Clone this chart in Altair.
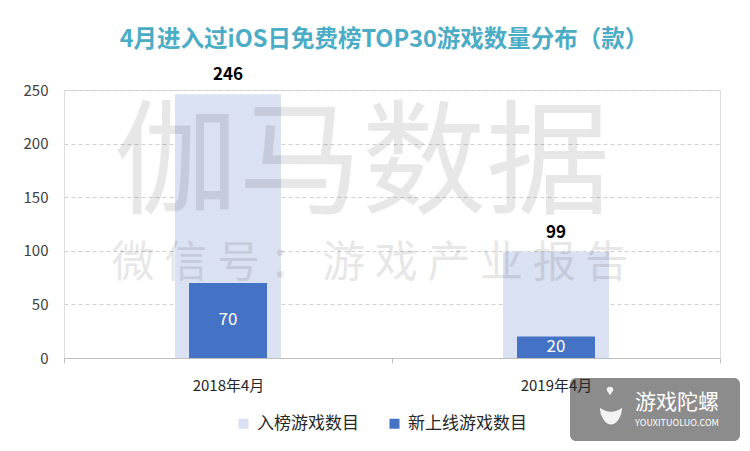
import altair as alt
import pandas as pd

months = ["2018年4月", "2019年4月"]
series_names = ["入榜游戏数目", "新上线游戏数目"]
listed_counts = [246, 99]
new_counts = [70, 20]
y_ticks = [0, 50, 100, 150, 200, 250]
title_text = "4月进入过iOS日免费榜TOP30游戏数量分布（款）"
colors = ["#DAE1F2", "#4472C4"]

FONT = "Noto Sans CJK SC"

rows = []
for m, a, b in zip(months, listed_counts, new_counts):
    rows.append({"month": m, "series": series_names[0], "value": a})
    rows.append({"month": m, "series": series_names[1], "value": b})
df = pd.DataFrame(rows)

x_enc = alt.X(
    "month:N",
    sort=months,
    title=None,
    scale=alt.Scale(paddingInner=0, paddingOuter=0),
    axis=alt.Axis(
        labelAngle=0, labelFontSize=15, labelColor="#262626", labelFont=FONT,
        domainColor="#BFBFBF", tickColor="#BFBFBF", tickSize=5, tickBand="extent",
        labelPadding=15, zindex=1,
    ),
)
y_enc = alt.Y(
    "value:Q",
    title=None,
    scale=alt.Scale(domain=[0, 250], nice=False),
    axis=alt.Axis(
        values=y_ticks, ticks=False, domain=False, labelFontSize=15,
        labelColor="#404040", labelFont=FONT, labelPadding=16,
        gridColor="#D0D0D0", gridDash=[4, 3], gridWidth=1,
    ),
)
color_enc = alt.Color(
    "series:N",
    scale=alt.Scale(domain=series_names, range=colors),
    legend=alt.Legend(
        title=None, orient="none", legendX=171, legendY=325, direction="horizontal",
        symbolType="square", symbolSize=100, symbolStrokeWidth=0,
        labelFontSize=17, labelFont=FONT, labelColor="#262626", labelOffset=5,
        columnPadding=27, padding=0, labelLimit=300,
    ),
)

base = alt.Chart(df)

listed = base.transform_filter(alt.datum.series == series_names[0])
new = base.transform_filter(alt.datum.series == series_names[1])

bars_listed = listed.mark_bar(size=106).encode(x=x_enc, y=y_enc, color=color_enc)
bars_new = new.mark_bar(size=78).encode(x=x_enc, y=y_enc, color=color_enc)

wm1 = alt.Chart(pd.DataFrame({"t": ["伽马数据"]})).mark_text(
    font=FONT, fontSize=124, color="#000000", opacity=0.09, align="center", baseline="middle"
).encode(text="t:N", x=alt.value(298), y=alt.value(77))
wm2 = alt.Chart(pd.DataFrame({"t": ["微 信 号 ： 游 戏 产 业 报 告"]})).mark_text(
    font=FONT, fontSize=43, color="#000000", opacity=0.09, align="center", baseline="middle"
).encode(text="t:N", x=alt.value(306), y=alt.value(174))

labels_listed = listed.mark_text(
    font=FONT, fontSize=17, fontWeight="bold", color="#000000", baseline="alphabetic", dy=-14
).encode(x=x_enc, y=y_enc, text="value:Q")
labels_new = new.mark_text(
    font=FONT, fontSize=17, color="#FFFFFF", baseline="middle"
).encode(x=x_enc, y=alt.Y("mid:Q", scale=alt.Scale(domain=[0, 250], nice=False)), text="value:Q").transform_calculate(
    mid="datum.value / 2"
)

logo_df = pd.DataFrame({"a": ["游戏陀螺"], "b": ["YOUXITUOLUO.COM"]})
logo_rect = alt.Chart(logo_df).mark_rect(
    color="#808080", opacity=0.9, cornerRadius=6
).encode(x=alt.value(506), x2=alt.value(676), y=alt.value(288), y2=alt.value(351))
logo_bowl = alt.Chart(logo_df).mark_point(
    shape="M-1,-0.55 Q0,0.15 1,-0.55 L0.92,0 Q0.55,0.95 0,0.95 Q-0.55,0.95 -0.92,0 Z",
    filled=True, color="#F2F2F2", opacity=1, size=500,
).encode(x=alt.value(547), y=alt.value(324))
logo_drop = alt.Chart(logo_df).mark_point(
    shape="M0,1 L-0.75,-0.1 Q-0.9,-1 0,-1 Q0.9,-1 0.75,-0.1 Z",
    filled=True, color="#F2F2F2", opacity=1, size=70,
).encode(x=alt.value(546), y=alt.value(301))
logo_t1 = alt.Chart(logo_df).mark_text(
    font=FONT, fontSize=21, color="#FFFFFF", align="center", baseline="middle"
).encode(text="a:N", x=alt.value(613), y=alt.value(313))
logo_t2 = alt.Chart(logo_df).mark_text(
    font=FONT, fontSize=9, color="#FFFFFF", align="center", baseline="middle"
).encode(text="b:N", x=alt.value(613), y=alt.value(333))

chart = alt.layer(
    bars_listed, bars_new, wm1, wm2, labels_listed, labels_new,
    logo_rect, logo_bowl, logo_drop, logo_t1, logo_t2,
).properties(
    width=656,
    height=268,
    autosize=alt.AutoSizeParams(type="none"),
    padding={"left": 56, "top": 82, "right": 20, "bottom": 85},
    title=alt.TitleParams(
        text=title_text, font=FONT, fontSize=23.5, fontWeight="bold", color="#4BACC6",
        anchor="middle", frame="group", offset=15, dx=-8,
    ),
).configure_view(stroke=None).configure(background="#FFFFFF")

chart.save("out.html", embed_options={"renderer": "svg", "actions": False})
